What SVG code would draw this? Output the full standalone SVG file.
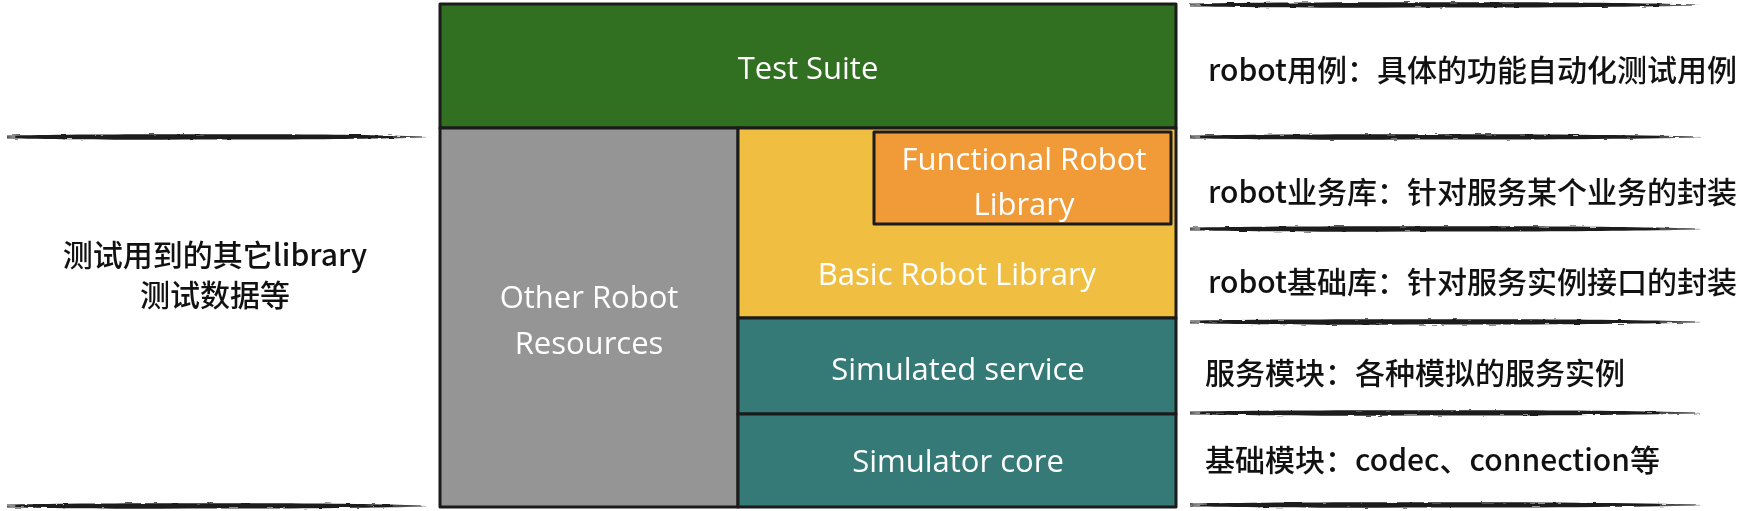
<svg xmlns="http://www.w3.org/2000/svg" xmlns:xlink="http://www.w3.org/1999/xlink" width="1738" height="511" viewBox="0 0 1738 511">
<style>
.box{stroke:#1b1b1b;stroke-width:3;stroke-linejoin:round}
.lbl{font-family:"Open Sans","Noto Sans CJK SC",sans-serif;font-size:31px;fill:#ffffff;text-anchor:middle;dominant-baseline:central}
.note{font-family:"Noto Sans CJK SC","Noto Sans",sans-serif;font-size:30px;font-weight:500;fill:#111111;dominant-baseline:central}
.side{font-family:"Noto Sans CJK SC","Noto Sans",sans-serif;font-size:30px;font-weight:500;fill:#111111;text-anchor:middle;dominant-baseline:central}
</style>
<defs>
<filter id="rough" x="-2%" y="-200%" width="104%" height="500%">
<feTurbulence type="fractalNoise" baseFrequency="0.08 0.9" numOctaves="2" seed="3" result="n"/>
<feDisplacementMap in="SourceGraphic" in2="n" scale="2.5" xChannelSelector="R" yChannelSelector="G"/>
</filter>
<g id="brush">
<path d="M0,-1.4 C100,-2.4 300,-2.9 500,-2.7 C700,-2.9 850,-2.2 960,-1 L1000,-0.4 L1000,0.4 L960,1 C850,2 700,2.7 500,2.5 C300,2.9 100,2.3 0,1.4 Z" fill="#1e1e1e"/>
<path d="M0,-0.6 L20,-1.2 L20,1.2 L0,0.6 Z" fill="#888"/>
<path d="M930,0 L1010,0.3" stroke="#999" stroke-width="1" fill="none"/>
</g>
</defs>
<rect width="1738" height="511" fill="#ffffff"/>

<g id="separators" filter="url(#rough)">
<use xlink:href="#brush" transform="translate(1190,5) scale(0.505,1)"/>
<use xlink:href="#brush" transform="translate(1190,137) scale(0.505,1)"/>
<use xlink:href="#brush" transform="translate(1190,229) scale(0.505,1)"/>
<use xlink:href="#brush" transform="translate(1190,322) scale(0.505,1)"/>
<use xlink:href="#brush" transform="translate(1190,413) scale(0.505,1)"/>
<use xlink:href="#brush" transform="translate(1190,505) scale(0.505,1)"/>
<use xlink:href="#brush" transform="translate(7,137) scale(0.415,1)"/>
<use xlink:href="#brush" transform="translate(7,506) scale(0.415,1)"/>
</g>

<g id="test-suite">
<rect class="box" x="440" y="4" width="736" height="124" fill="#316f21"/>
<text class="lbl" x="808" y="67">Test Suite</text>
</g>

<g id="other-robot-resources">
<rect class="box" x="440" y="128" width="298" height="379" fill="#959595"/>
<text class="lbl" x="589" y="296">Other Robot</text>
<text class="lbl" x="589" y="342">Resources</text>
</g>

<g id="basic-robot-library">
<rect class="box" x="738" y="128" width="438" height="190" fill="#f0bf41"/>
<text class="lbl" x="957" y="273">Basic Robot Library</text>
</g>

<g id="functional-robot-library">
<rect class="box" x="874" y="132" width="297" height="92" fill="#f09b38"/>
<text class="lbl" x="1024" y="158">Functional Robot</text>
<text class="lbl" x="1024" y="203">Library</text>
</g>

<g id="simulated-service">
<rect class="box" x="738" y="318" width="438" height="96" fill="#357a76"/>
<text class="lbl" x="958" y="368">Simulated service</text>
</g>

<g id="simulator-core">
<rect class="box" x="738" y="414" width="438" height="93" fill="#357a76"/>
<text class="lbl" x="958" y="460">Simulator core</text>
</g>

<g id="left-note">
<text class="side" x="215" y="253">测试用到的其它library</text>
<text class="side" x="215" y="293">测试数据等</text>
</g>

<g id="notes">
<text class="note" x="1208" y="68">robot用例：具体的功能自动化测试用例</text>
<text class="note" x="1208" y="190">robot业务库：针对服务某个业务的封装</text>
<text class="note" x="1208" y="280">robot基础库：针对服务实例接口的封装</text>
<text class="note" x="1205" y="371">服务模块：各种模拟的服务实例</text>
<text class="note" x="1205" y="458">基础模块：codec、connection等</text>
</g>
</svg>
